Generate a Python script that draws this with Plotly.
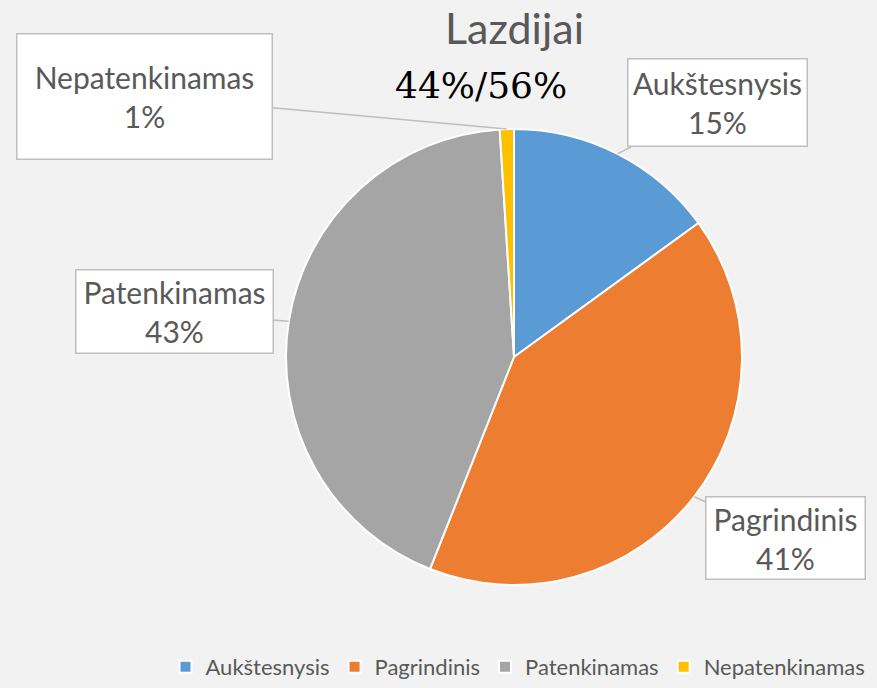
import math
import plotly.graph_objects as go

# ---- data ----
categories = ["Aukštesnysis", "Pagrindinis", "Patenkinamas", "Nepatenkinamas"]
values = [15, 41, 43, 1]
colors = ["#5B9BD5", "#ED7D31", "#A5A5A5", "#FFC000"]
title_text = "Lazdijai"
subtitle_text = "44%/56%"

# ---- layout constants (pixels) ----
W, H = 877, 688
CX, CY, R = 514, 357, 228
# callout box centres and sizes (pixels)
boxes = {
    "Aukštesnysis": (717, 103, 180, 88),
    "Pagrindinis": (785, 538, 160, 83),
    "Patenkinamas": (174, 311, 198, 84),
    "Nepatenkinamas": (145, 96, 256, 126),
}
FONT = "Lato, Open Sans, sans-serif"
SERIF = "DejaVu Serif, serif"
GRAY = "#595959"

fig = go.Figure(go.Pie(
    labels=categories,
    values=values,
    sort=False,
    direction="clockwise",
    rotation=0,
    marker=dict(colors=colors, line=dict(color="white", width=2)),
    textinfo="none",
    hoverinfo="label+percent",
    domain=dict(x=[(CX - R) / W, (CX + R) / W],
                y=[(H - CY - R) / H, (H - CY + R) / H]),
))

total = sum(values)
cum = 0
annotations = []
for cat, v in zip(categories, values):
    mid = (cum + v / 2) / total * 2 * math.pi
    cum += v
    px = CX + R * math.sin(mid)
    py = CY - R * math.cos(mid)
    bx, by, bw, bh = boxes[cat]
    pct = round(v / total * 100)
    annotations.append(dict(
        x=px / W, y=1 - py / H, xref="paper", yref="paper",
        text=f"{cat}<br>{pct}%",
        showarrow=True, arrowhead=0, arrowwidth=1.5, arrowcolor="#BFBFBF",
        standoff=0, axref="pixel", ayref="pixel",
        ax=bx - px, ay=by - py,
        width=bw - 4, height=bh - 4, borderpad=1,
        bgcolor="white", bordercolor="#BFBFBF", borderwidth=1.5,
        font=dict(family=FONT, size=30, color=GRAY),
        align="center", valign="middle",
    ))

annotations.append(dict(
    x=514 / W, y=1 - 28 / H, xref="paper", yref="paper", showarrow=False,
    text=title_text, xanchor="center", yanchor="middle",
    font=dict(family=FONT, size=43, color=GRAY),
))
annotations.append(dict(
    x=481 / W, y=1 - 85 / H, xref="paper", yref="paper", showarrow=False,
    text=subtitle_text, xanchor="center", yanchor="middle",
    font=dict(family=SERIF, size=36, color="black"),
))

fig.update_layout(
    width=W, height=H,
    margin=dict(l=0, r=0, t=0, b=0),
    paper_bgcolor="#F2F2F2",
    plot_bgcolor="#F2F2F2",
    showlegend=True,
    legend=dict(
        orientation="h", x=518 / W, xanchor="center", y=0, yanchor="bottom",
        font=dict(family=FONT, size=22, color=GRAY),
        itemwidth=30, tracegroupgap=0,
        bgcolor="rgba(0,0,0,0)",
    ),
    annotations=annotations,
)

fig.write_html("out.html", config={"displayModeBar": False},
               post_script="document.body.style.margin='0';document.body.style.overflow='hidden';")
